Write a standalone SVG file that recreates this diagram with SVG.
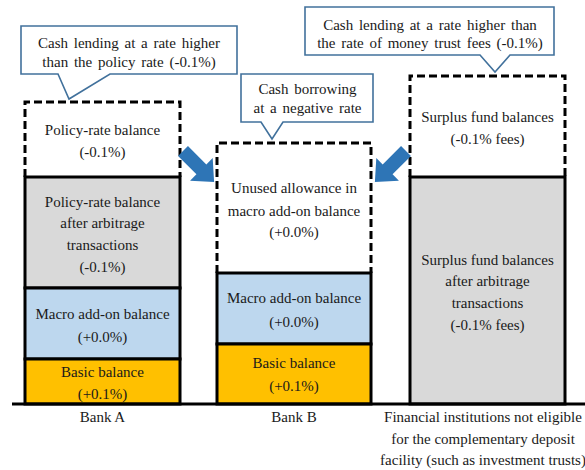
<svg xmlns="http://www.w3.org/2000/svg" width="585" height="470" viewBox="0 0 585 470">
  <style>
    text { font-family: "Liberation Serif", "Times New Roman", serif; font-size: 15px; fill: #1a1a1a; text-anchor: middle; }
    .callout-text text { word-spacing: 2px; }
    .solid { stroke: #000; stroke-width: 3; }
    .dash { fill: none; stroke: #000; stroke-width: 3; stroke-dasharray: 8 4; }
    .gray { fill: #d9d9d9; }
    .blue { fill: #bdd7ee; }
    .gold { fill: #ffc000; }
    .callout { fill: #fff; stroke: #41719c; stroke-width: 1.6; stroke-linejoin: miter; }
    .arrow { fill: #2e75b6; }
  </style>
  <defs>
    <path id="fatArrow" d="M0,-7 L26,-7 L26,-16 L44,0 L26,16 L26,7 L0,7 Z"/>
  </defs>
  <rect width="585" height="470" fill="#fff"/>

  <!-- Bank A column -->
  <g id="bank-a">
    <path class="dash" d="M25,177 V102 H180 V177"/>
    <text x="102.5" y="135">Policy-rate balance</text>
    <text x="102.5" y="157">(-0.1%)</text>
    <rect class="solid gray" x="25" y="177" width="155" height="111"/>
    <text x="102.5" y="207">Policy-rate balance</text>
    <text x="102.5" y="228">after arbitrage</text>
    <text x="102.5" y="250">transactions</text>
    <text x="102.5" y="272">(-0.1%)</text>
    <rect class="solid blue" x="25" y="288" width="155" height="71"/>
    <text x="102.5" y="319">Macro add-on balance</text>
    <text x="102.5" y="342">(+0.0%)</text>
    <rect class="solid gold" x="25" y="359" width="155" height="45"/>
    <text x="102.5" y="377">Basic balance</text>
    <text x="102.5" y="399">(+0.1%)</text>
    <text x="102.5" y="422">Bank A</text>
  </g>

  <!-- Bank B column -->
  <g id="bank-b">
    <path class="dash" d="M217,273 V143 H371 V273"/>
    <text x="294" y="193">Unused allowance in</text>
    <text x="294" y="216">macro add-on balance</text>
    <text x="294" y="237">(+0.0%)</text>
    <rect class="solid blue" x="217" y="273" width="154" height="71"/>
    <text x="294" y="303">Macro add-on balance</text>
    <text x="294" y="327">(+0.0%)</text>
    <rect class="solid gold" x="217" y="344" width="154" height="60"/>
    <text x="294" y="368">Basic balance</text>
    <text x="294" y="391">(+0.1%)</text>
    <text x="294" y="422">Bank B</text>
  </g>

  <!-- Non-eligible institutions column -->
  <g id="non-eligible">
    <path class="dash" d="M410,177 V76 H565 V177"/>
    <text x="487.5" y="122">Surplus fund balances</text>
    <text x="487.5" y="144">(-0.1% fees)</text>
    <rect class="solid gray" x="410" y="177" width="155" height="227"/>
    <text x="487.5" y="265">Surplus fund balances</text>
    <text x="487.5" y="286">after arbitrage</text>
    <text x="487.5" y="308">transactions</text>
    <text x="487.5" y="330">(-0.1% fees)</text>
    <text x="483" y="422">Financial institutions not eligible</text>
    <text x="483" y="444">for the complementary deposit</text>
    <text x="483" y="465">facility (such as investment trusts)</text>
  </g>

  <!-- Callouts -->
  <g id="callout-a" class="callout-text">
    <path class="callout" d="M21,26 H237 V74 H110 L69,99 L58,74 H21 Z"/>
    <text x="129" y="48">Cash lending at a rate higher</text>
    <text x="129" y="67">than the policy rate (-0.1%)</text>
  </g>
  <g id="callout-b" class="callout-text">
    <path class="callout" d="M241,74 H373 V122 H283 L272,139 L261,122 H241 Z"/>
    <text x="307.5" y="94">Cash borrowing</text>
    <text x="307.5" y="113">at a negative rate</text>
  </g>
  <g id="callout-c" class="callout-text">
    <path class="callout" d="M305,7 H554 V55 H510 L495,72 L480,55 H305 Z"/>
    <text x="430" y="30">Cash lending at a rate higher than</text>
    <text x="430" y="48">the rate of money trust fees (-0.1%)</text>
  </g>

  <!-- Connectors -->
  <g id="connectors">
    <line x1="12" y1="404" x2="585" y2="404" stroke="#000" stroke-width="3"/>
    <use href="#fatArrow" class="arrow" transform="translate(183,151) rotate(45)"/>
    <use href="#fatArrow" class="arrow" transform="translate(406,151) rotate(135)"/>
  </g>
</svg>
